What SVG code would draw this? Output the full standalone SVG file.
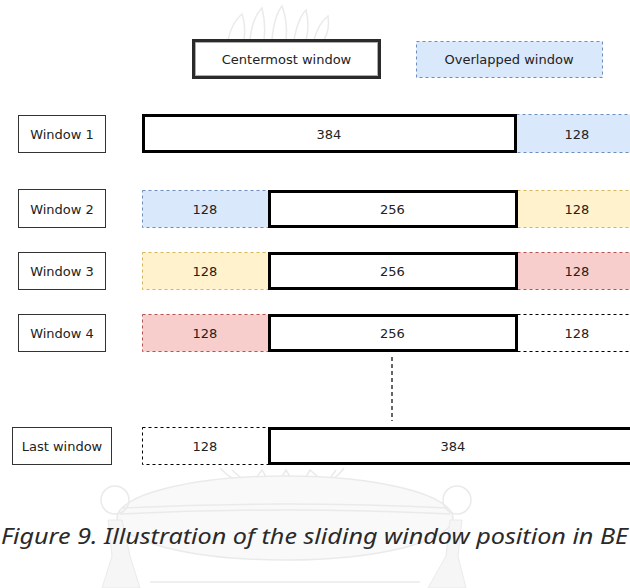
<svg xmlns="http://www.w3.org/2000/svg" width="630" height="588" viewBox="0 0 630 588">
  <style>
    .lbl { font-family: "DejaVu Sans", "Liberation Sans", sans-serif; font-size: 13px; fill: #222; text-anchor: middle; }
    .name { fill: #fff; stroke: #333; stroke-width: 1; }
    .core { fill: #fff; stroke: #000; stroke-width: 3; }
    .dash { stroke-width: 1; stroke-dasharray: 3 3; }
    .blue { fill: #dae8fc; stroke: #6c8ebf; }
    .yellow { fill: #fff2cc; stroke: #d6b656; }
    .red { fill: #f8cecc; stroke: #b85450; }
    .plain { fill: #fff; stroke: #000; }
    .wm { fill: none; stroke: #e6e6e6; stroke-width: 1.5; }
    .caption { font-family: "Noto Sans", "Open Sans", sans-serif; font-style: italic; font-size: 22px; fill: #2a2a2a; }
  </style>

  <rect width="630" height="588" fill="#fff"/>

  <!-- faint background emblem -->
  <g id="emblem" opacity="0.8">
    <g class="wm">
      <path d="M228 40 Q232 22 242 14 Q246 26 244 40"/>
      <path d="M250 40 Q252 18 262 8 Q266 24 264 40"/>
      <path d="M272 40 Q274 16 282 6 Q288 22 286 40"/>
      <path d="M294 40 Q298 18 306 10 Q310 26 306 40"/>
      <path d="M314 40 Q318 24 328 16 Q330 30 324 40"/>
      <path d="M220 468 Q240 490 262 478 Q276 496 286 476 Q300 494 312 478 Q330 488 344 468"/>
      <path d="M232 470 L250 486 L262 470 L274 490 L286 470 L298 490 L310 470 L326 484 L336 470"/>
    </g>
    <ellipse cx="285" cy="518" rx="168" ry="42" fill="#f8f8f8" stroke="#e6e6e6" stroke-width="1.5"/>
    <path d="M122 508 Q285 500 448 508 M120 514 Q285 506 450 514" class="wm"/>
    <circle cx="115" cy="500" r="14" class="wm"/>
    <circle cx="457" cy="500" r="14" class="wm"/>
    <path d="M108 520 L112 556 L102 588 L140 588 L130 556 L122 520 Z" fill="#f4f4f4" stroke="#e6e6e6"/>
    <path d="M450 520 L446 556 L428 588 L466 588 L458 556 L462 520 Z" fill="#f4f4f4" stroke="#e6e6e6"/>
    <path d="M150 582 L420 582" class="wm"/>
  </g>

  <!-- legend -->
  <g id="legend-centermost">
    <rect x="193.5" y="40.5" width="186" height="37" fill="#fff" stroke="#2a2a2a" stroke-width="3"/>
    <rect x="195.5" y="42.5" width="182" height="33" fill="none" stroke="#9a9a9a" stroke-width="0.8"/>
    <text class="lbl" x="286.5" y="64">Centermost window</text>
  </g>
  <g id="legend-overlapped">
    <rect x="416.5" y="41.5" width="186" height="36" class="blue dash"/>
    <text class="lbl" x="509" y="64">Overlapped window</text>
  </g>

  <!-- window 1 -->
  <g id="window1">
    <rect x="18.5" y="115.5" width="87" height="37" class="name"/>
    <text class="lbl" x="62" y="138.5">Window 1</text>
    <rect x="516.5" y="114.5" width="130" height="38" class="blue dash"/>
    <text class="lbl" x="577" y="138.5">128</text>
    <rect x="143.5" y="115.5" width="372" height="36" class="core"/>
    <text class="lbl" x="329" y="138.5">384</text>
  </g>

  <!-- window 2 -->
  <g id="window2">
    <rect x="18.5" y="189.5" width="87" height="38" class="name"/>
    <text class="lbl" x="62" y="213.5">Window 2</text>
    <rect x="142.5" y="190.5" width="126" height="37" class="blue dash"/>
    <text class="lbl" x="205" y="213.5">128</text>
    <rect x="517.5" y="190.5" width="130" height="37" class="yellow dash"/>
    <text class="lbl" x="577" y="213.5">128</text>
    <rect x="269.5" y="191.5" width="247" height="35" class="core"/>
    <text class="lbl" x="392.5" y="213.5">256</text>
  </g>

  <!-- window 3 -->
  <g id="window3">
    <rect x="18.5" y="252.5" width="87" height="37" class="name"/>
    <text class="lbl" x="62" y="275.5">Window 3</text>
    <rect x="142.5" y="252.5" width="126" height="37" class="yellow dash"/>
    <text class="lbl" x="205" y="275.5">128</text>
    <rect x="517.5" y="252.5" width="130" height="37" class="red dash"/>
    <text class="lbl" x="577" y="275.5">128</text>
    <rect x="269.5" y="253.5" width="247" height="35" class="core"/>
    <text class="lbl" x="392.5" y="275.5">256</text>
  </g>

  <!-- window 4 -->
  <g id="window4">
    <rect x="18.5" y="314.5" width="87" height="37" class="name"/>
    <text class="lbl" x="62" y="337.5">Window 4</text>
    <rect x="142.5" y="314.5" width="126" height="37" class="red dash"/>
    <text class="lbl" x="205" y="337.5">128</text>
    <rect x="517.5" y="314.5" width="130" height="37" class="plain dash"/>
    <text class="lbl" x="577" y="337.5">128</text>
    <rect x="269.5" y="315.5" width="247" height="35" class="core"/>
    <text class="lbl" x="392.5" y="337.5">256</text>
  </g>

  <!-- last window -->
  <g id="last-window">
    <rect x="12.5" y="427.5" width="99" height="37" class="name"/>
    <text class="lbl" x="62" y="450.5">Last window</text>
    <rect x="142.5" y="427.5" width="126" height="37" class="plain dash"/>
    <text class="lbl" x="205" y="450.5">128</text>
    <rect x="269.5" y="428.5" width="372" height="35" class="core"/>
    <text class="lbl" x="453" y="450.5">384</text>
  </g>

  <!-- connectors -->
  <g id="connectors">
    <line x1="392" y1="357" x2="392" y2="421" stroke="#000" stroke-width="1.2" stroke-dasharray="4 3"/>
  </g>

  <text class="caption" x="1" y="544" textLength="627" lengthAdjust="spacingAndGlyphs">Figure 9. Illustration of the sliding window position in BE</text>
</svg>
